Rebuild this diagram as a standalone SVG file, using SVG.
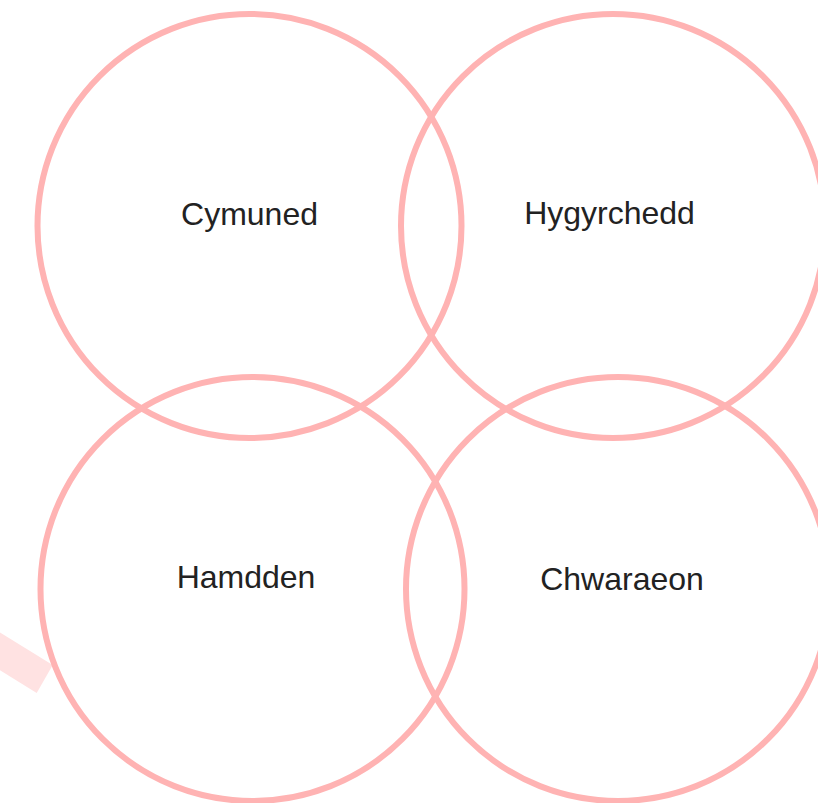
<svg xmlns="http://www.w3.org/2000/svg" width="818" height="803" viewBox="0 0 818 803">
<style>
.ring{fill:none;stroke:#FFB3B3;stroke-width:6}
.lbl{font-family:"Liberation Sans",Arial,sans-serif;font-size:32px;fill:#222222;text-anchor:middle}
</style>
<rect x="0" y="0" width="818" height="803" fill="#FFFFFF"/>
<polygon points="-20,620 52.7,665 36.7,693 -20,658" fill="#FFE2E2"/>
<g id="node-cymuned">
<circle class="ring" cx="249.5" cy="226" r="212"/>
<text class="lbl" x="249.5" y="225">Cymuned</text>
</g>
<g id="node-hygyrchedd">
<circle class="ring" cx="613" cy="226" r="212"/>
<text class="lbl" x="609.5" y="223.5">Hygyrchedd</text>
</g>
<g id="node-hamdden">
<circle class="ring" cx="252.5" cy="589" r="212"/>
<text class="lbl" x="246" y="588">Hamdden</text>
</g>
<g id="node-chwaraeon">
<circle class="ring" cx="618" cy="589" r="212"/>
<text class="lbl" x="622" y="590">Chwaraeon</text>
</g>
<g id="connectors"/>
</svg>
